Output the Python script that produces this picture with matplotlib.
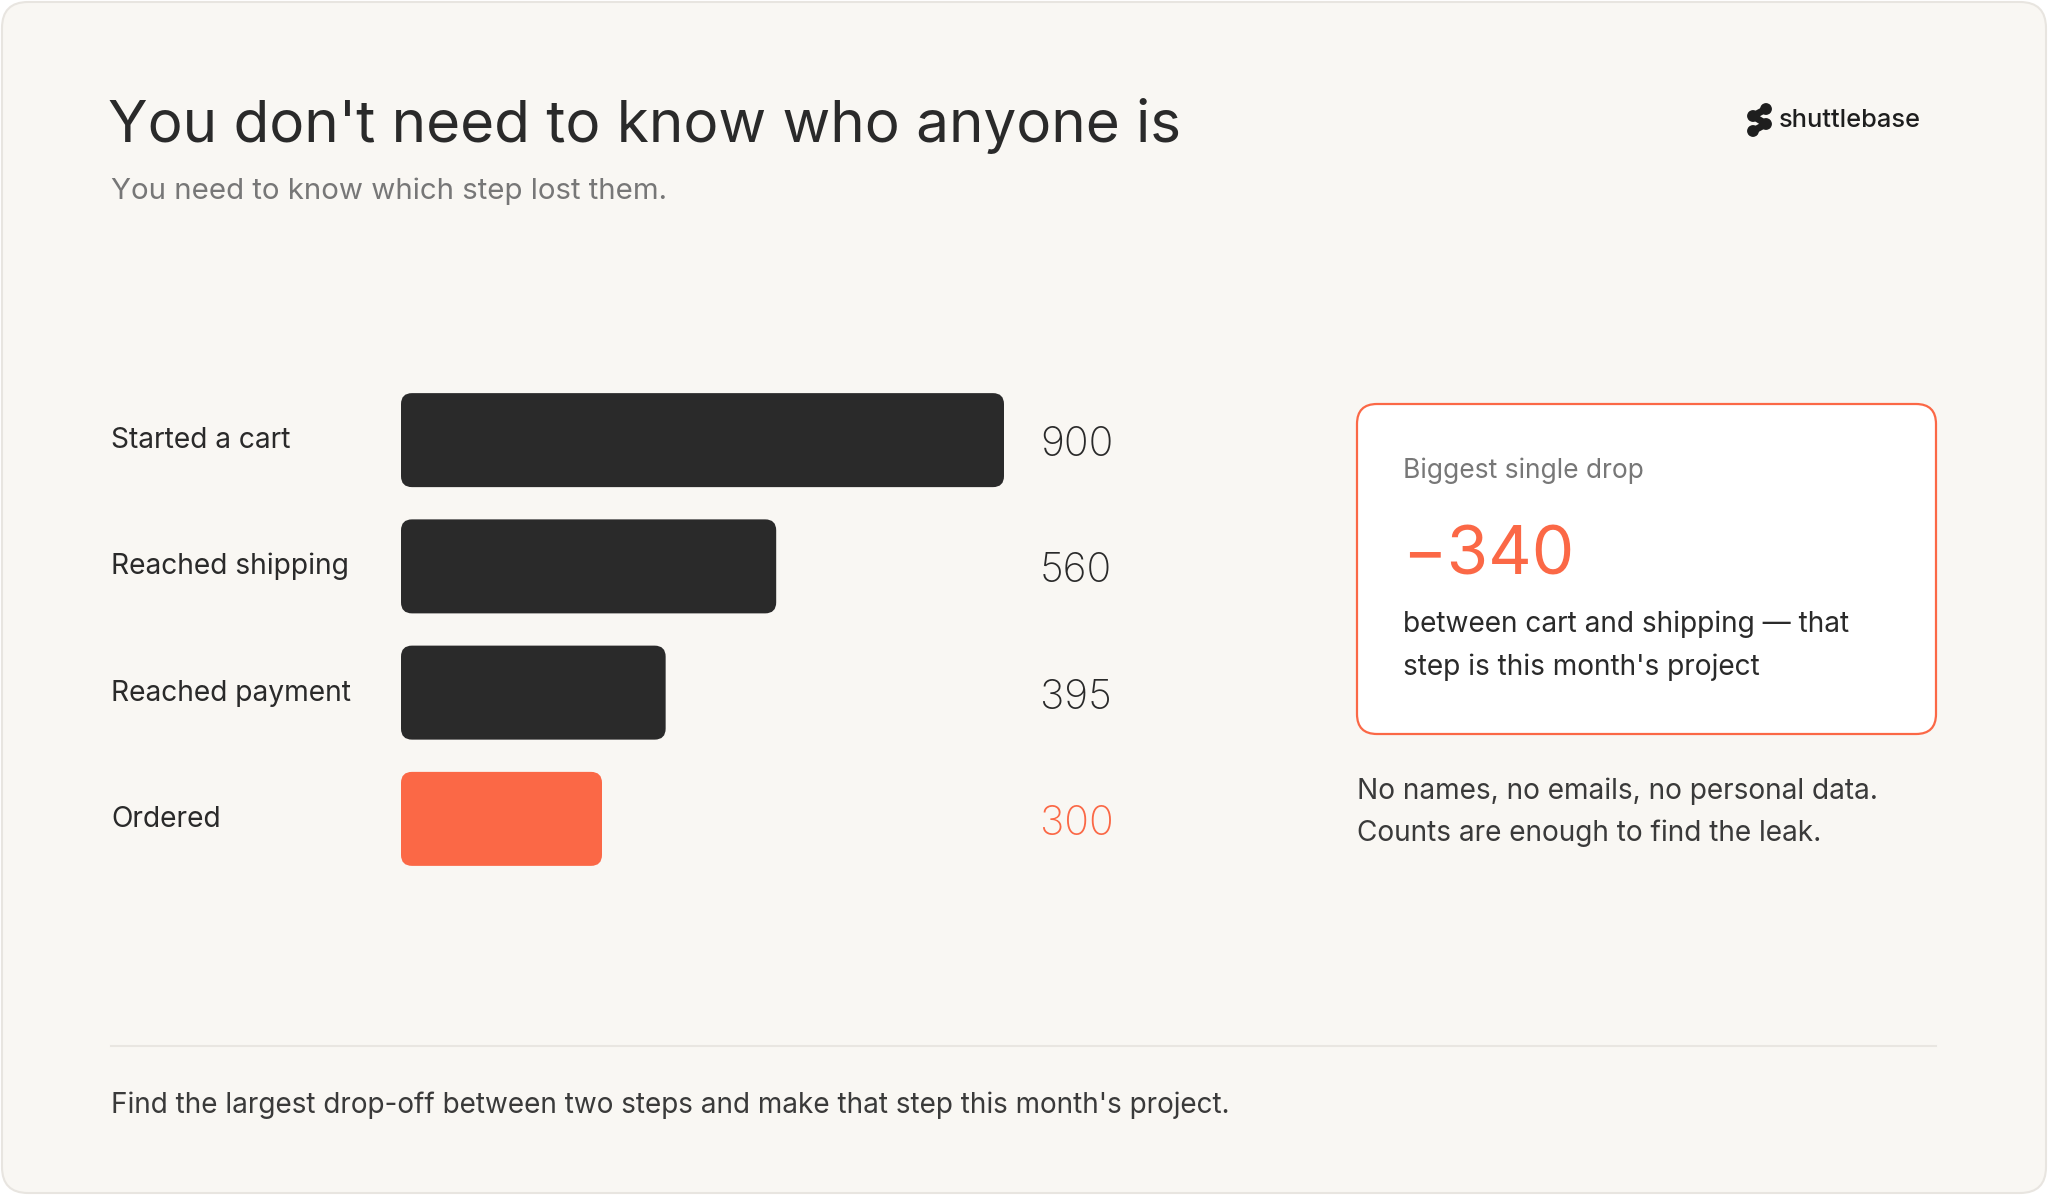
import matplotlib
matplotlib.use("Agg")
import matplotlib.pyplot as plt
import matplotlib.patches as patches
import matplotlib.transforms as mtransforms

# funnel data
steps = ["Started a cart", "Reached shipping", "Reached payment", "Ordered"]
counts = [900, 560, 395, 300]
value_labels = ["900", "560", "395", "300"]
highlight = [False, False, False, True]

title = "You don't need to know who anyone is"
subtitle = "You need to know which step lost them."
card_kicker = "Biggest single drop"
card_value = "\u2212340"
card_body = ["between cart and shipping \u2014 that", "step is this month's project"]
side_note = ["No names, no emails, no personal data.", "Counts are enough to find the leak."]
footer = "Find the largest drop-off between two steps and make that step this month's project."
brand = "shuttlebase"

BG = "#F9F7F3"
DARK = "#2A2A2A"
ORANGE = "#FB6846"
GREY = "#777777"
FONT = ["Inter", "DejaVu Sans"]

W, H = 2048, 1195
fig = plt.figure(figsize=(W / 100, H / 100), dpi=100)
fig.patch.set_facecolor("white")

# overlay in pixel coordinates
ov = fig.add_axes([0, 0, 1, 1])
ov.set_xlim(0, W)
ov.set_ylim(H, 0)
ov.axis("off")

ov.add_patch(patches.FancyBboxPatch((2, 2), W - 4, H - 4,
                                    boxstyle="round,pad=0,rounding_size=26",
                                    facecolor=BG, edgecolor="#E8E5E0", lw=1.5))

ov.text(108, 142, title, fontsize=42, color=DARK, family=FONT, va="baseline")
ov.text(111, 199, subtitle, fontsize=21.2, color=GREY, family=FONT, va="baseline")

# logo
dots = [(1766, 109), (1753, 116), (1766, 124), (1753, 131)]
ov.plot([p[0] for p in dots], [p[1] for p in dots], color="#1E1E1E", lw=5,
        solid_capstyle="round", solid_joinstyle="round")
for px, py in dots:
    ov.add_patch(patches.Circle((px, py), 5.2, color="#1E1E1E"))
ov.text(1779, 127, brand, fontsize=18.3, color="#1E1E1E", family=FONT, fontweight="medium",
        va="baseline")

# bar axes: x=0 at px 401, 900 at px 1004
bx0, bx1 = 401, 1004
by0, by1 = 377, 882
bax = fig.add_axes([bx0 / W, 1 - by1 / H, (bx1 - bx0) / W, (by1 - by0) / H])
bax.set_xlim(0, max(counts))
bax.set_ylim(len(steps) - 0.5, -0.5)
bax.axis("off")
bax.patch.set_alpha(0)

bar_h = 94 / 126.25
x_per_px = max(counts) / (bx1 - bx0)
y_per_px = len(steps) / (by1 - by0)
radius_px = 11
for i, (v, hl) in enumerate(zip(counts, highlight)):
    bax.add_patch(patches.FancyBboxPatch(
        (0, i - bar_h / 2), v, bar_h,
        boxstyle="round,pad=0,rounding_size=%f" % (radius_px * x_per_px),
        mutation_aspect=y_per_px / x_per_px,
        facecolor=ORANGE if hl else DARK, edgecolor="none"))

lab_tr = mtransforms.offset_copy(
    mtransforms.blended_transform_factory(ov.transData, bax.transData),
    fig=fig, y=-8, units="dots")
val_tr = mtransforms.offset_copy(
    mtransforms.blended_transform_factory(ov.transData, bax.transData),
    fig=fig, y=-16, units="dots")
for i, (s, lab, hl) in enumerate(zip(steps, value_labels, highlight)):
    bax.text(111, i, s, transform=lab_tr, fontsize=20.3, color=DARK, family=FONT, va="baseline")
    bax.text(1040, i, lab, transform=val_tr, fontsize=29.5, color=ORANGE if hl else DARK,
             family=FONT, fontweight="light", va="baseline")

# callout card
ov.add_patch(patches.FancyBboxPatch((1357, 404), 579, 330,
                                    boxstyle="round,pad=0,rounding_size=20",
                                    facecolor="white", edgecolor=ORANGE, lw=1.6))
ov.text(1403, 478, card_kicker, fontsize=19, color=GREY, family=FONT, va="baseline")
ov.text(1402, 574, card_value, fontsize=48.5, color=ORANGE, family=FONT, va="baseline")
ov.text(1403, 632, card_body[0], fontsize=20.2, color=DARK, family=FONT, va="baseline")
ov.text(1403, 675, card_body[1], fontsize=20.2, color=DARK, family=FONT, va="baseline")

ov.text(1357, 799, side_note[0], fontsize=20.2, color="#3A3A3A", family=FONT, va="baseline")
ov.text(1357, 841, side_note[1], fontsize=20.2, color="#3A3A3A", family=FONT, va="baseline")

ov.plot([111, 1936], [1046, 1046], color="#E9E6E1", lw=1.5)
ov.text(111, 1113, footer, fontsize=20.1, color="#3A3A3A", family=FONT, va="baseline")

fig.savefig("out.png", dpi=100, facecolor=fig.get_facecolor())
